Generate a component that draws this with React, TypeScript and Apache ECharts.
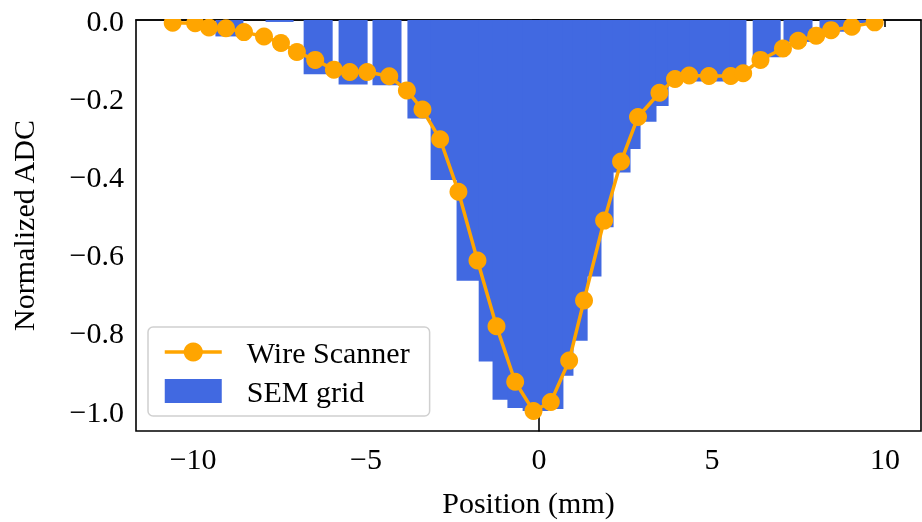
import React, { useEffect, useRef } from "react";
import * as echarts from "echarts";

// Wire scanner profile (position in mm, normalized ADC)
const wireX = [-10.59, -9.94, -9.54, -9.05, -8.53, -7.95, -7.46, -7.0, -6.47, -5.93, -5.47, -4.97, -4.33, -3.82, -3.37, -2.86, -2.33, -1.78, -1.23, -0.69, -0.16, 0.34, 0.87, 1.3, 1.88, 2.37, 2.86, 3.48, 3.93, 4.34, 4.91, 5.54, 5.9, 6.4, 7.05, 7.49, 8.01, 8.44, 9.04, 9.7];
const wireY = [-0.007, -0.008, -0.019, -0.021, -0.031, -0.042, -0.059, -0.082, -0.102, -0.127, -0.133, -0.133, -0.144, -0.18, -0.229, -0.305, -0.439, -0.615, -0.783, -0.925, -1.0, -0.977, -0.871, -0.717, -0.513, -0.362, -0.248, -0.186, -0.151, -0.142, -0.143, -0.143, -0.136, -0.102, -0.073, -0.053, -0.04, -0.026, -0.017, -0.006];

// SEM grid bins (left edge, right edge in mm, normalized ADC)
const semLeft = [-9.34, -7.89, -6.79, -5.78, -4.8, -3.79, -3.12, -2.37, -1.73, -1.33, -0.9, -0.46, 0.26, 0.69, 0.98, 1.39, 1.79, 2.14, 2.63, 2.92, 3.38, 3.73, 4.36, 5.52, 6.19, 7.08, 8.12, 9.13];
const semRight = [-8.56, -7.11, -5.98, -4.97, -3.99, -3.12, -2.37, -1.73, -1.33, -0.9, -0.46, 0.26, 0.69, 0.98, 1.39, 1.79, 2.14, 2.63, 2.92, 3.38, 3.73, 4.36, 5.52, 5.98, 6.97, 7.89, 8.93, 9.91];
const semValue = [-0.042, -0.005, -0.139, -0.165, -0.167, -0.252, -0.409, -0.667, -0.873, -0.971, -0.992, -1.0, -0.995, -0.91, -0.82, -0.656, -0.53, -0.39, -0.33, -0.26, -0.22, -0.15, -0.157, -0.135, -0.095, -0.056, -0.03, -0.008];

const xTicks = [-10, -5, 0, 5, 10];
const yTicks = [0, -0.2, -0.4, -0.6, -0.8, -1.0];

const FONT = "'Liberation Serif', 'DejaVu Serif', serif";
const BLUE = "#4169E1";
const ORANGE = "#FFA500";

export default function App() {
  const ref = useRef<HTMLDivElement>(null);
  useEffect(() => {
    if (!ref.current) return;
    const chart = echarts.init(ref.current, undefined, { renderer: "svg" });
    const semData = semLeft.map((l, i) => [l, semRight[i], semValue[i]]);
    const wireData = wireX.map((x, i) => [x, wireY[i]]);
    chart.setOption({
      animation: false,
      grid: {
        left: 136,
        top: 20,
        right: 1,
        bottom: 89,
        show: true,
        borderColor: "#000",
        borderWidth: 1.6,
        backgroundColor: "transparent",
      },
      xAxis: {
        type: "value",
        min: -11.65,
        max: 11.04,
        name: "Position (mm)",
        nameLocation: "middle",
        nameGap: 56,
        nameTextStyle: { fontFamily: FONT, fontSize: 30, color: "#000" },
        axisLine: { show: true, lineStyle: { color: "#000", width: 1.6 } },
        axisTick: { show: true, length: 7, lineStyle: { color: "#000", width: 1.6 }, customValues: xTicks },
        axisLabel: {
          fontFamily: FONT,
          fontSize: 30,
          color: "#000",
          margin: 12,
          customValues: xTicks,
          formatter: (v: number) => String(v).replace("-", "\u2212"),
        },
        splitLine: { show: false },
      },
      yAxis: {
        type: "value",
        min: -1.051,
        max: 0,
        name: "Normalized ADC",
        nameLocation: "middle",
        nameGap: 98,
        nameTextStyle: { fontFamily: FONT, fontSize: 30, color: "#000" },
        axisLine: { show: true, lineStyle: { color: "#000", width: 1.6 } },
        axisTick: { show: true, length: 7, lineStyle: { color: "#000", width: 1.6 }, customValues: yTicks },
        axisLabel: {
          fontFamily: FONT,
          fontSize: 30,
          color: "#000",
          margin: 12,
          customValues: yTicks,
          formatter: (v: number) => (Math.abs(v) < 1e-9 ? "0.0" : v.toFixed(1).replace("-", "\u2212")),
        },
        splitLine: { show: false },
      },
      legend: {
        orient: "vertical",
        left: 148,
        top: 327,
        padding: [10, 20, 10, 15],
        itemWidth: 57,
        itemHeight: 24,
        itemGap: 9,
        backgroundColor: "#fff",
        borderColor: "#d0d0d0",
        borderWidth: 1.5,
        borderRadius: 5,
        textStyle: { fontFamily: FONT, fontSize: 30, color: "#000", padding: [0, 0, 0, 20], lineHeight: 30 },
        data: [
          { name: "Wire Scanner", lineStyle: { width: 3.5, color: ORANGE } },
          { name: "SEM grid", icon: "rect" },
        ],
      },
      graphic: [
        {
          type: "rect",
          z: 100,
          shape: { x: 138, y: 0, width: 784, height: 19 },
          style: { fill: "#fff" },
        },
      ],
      series: [
        {
          name: "SEM grid",
          type: "custom",
          itemStyle: { color: BLUE },
          encode: { x: [0, 1], y: 2 },
          data: semData,
          z: 1,
          renderItem: (params: any, api: any) => {
            const p0 = api.coord([api.value(0), 0]);
            const p1 = api.coord([api.value(1), api.value(2)]);
            return {
              type: "rect",
              shape: { x: p0[0] - 0.5, y: p0[1], width: p1[0] - p0[0] + 1, height: p1[1] - p0[1] },
              style: { fill: BLUE },
            };
          },
        },
        {
          name: "Wire Scanner",
          type: "line",
          data: wireData,
          z: 3,
          symbol: "circle",
          symbolSize: 18,
          itemStyle: { color: ORANGE },
          lineStyle: { color: ORANGE, width: 3.5 },
        },
      ],
    });
    return () => chart.dispose();
  }, []);
  return <div ref={ref} style={{ position: "fixed", left: 0, top: 0, width: 922, height: 522 }} />;
}
